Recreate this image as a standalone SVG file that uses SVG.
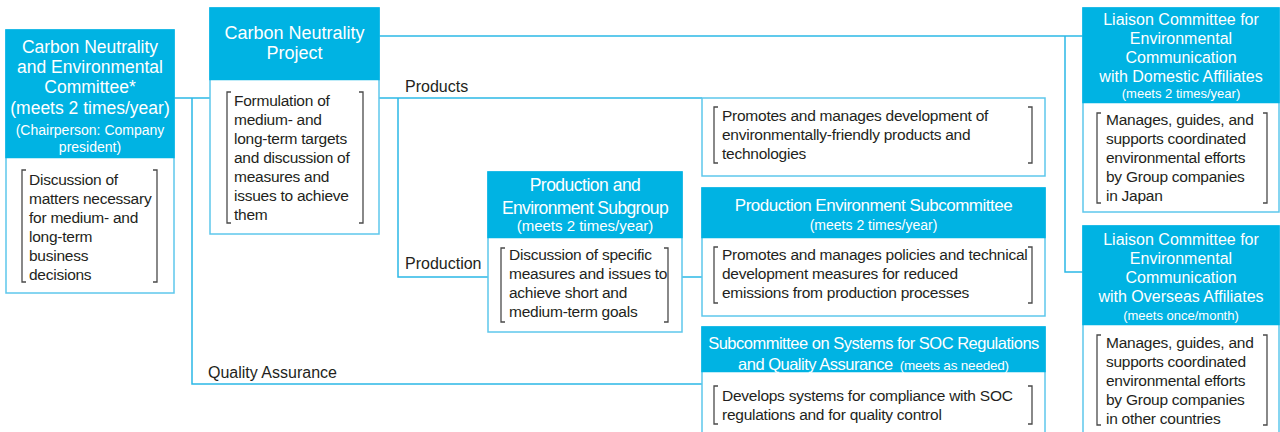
<svg xmlns="http://www.w3.org/2000/svg" width="1280" height="432" viewBox="0 0 1280 432">
<style>
.bx{fill:#fff;stroke:#5ec7ec;stroke-width:1.5}
.hd{fill:#00b3e3}
.cn{fill:none;stroke:#2bb8e6;stroke-width:1.5}
.br{fill:none;stroke:#4a4a4a;stroke-width:1.3}
text{font-family:"Liberation Sans",Arial,sans-serif}
.ht{fill:#fff;text-anchor:middle;font-size:17.5px}
.hn{letter-spacing:-0.5px}
.hs{font-size:14px}
.bt{fill:#231f20;font-size:15.5px;letter-spacing:-0.25px}
.lb{fill:#231f20;font-size:16px}
.soc{font-size:16.5px;letter-spacing:-0.5px}
</style>
<rect width="1280" height="432" fill="#fff"/>
<g id="connectors">
<path class="cn" d="M174 98H210"/>
<path class="cn" d="M192 98V384H702"/>
<path class="cn" d="M379 98H702"/>
<path class="cn" d="M398 98V277H488"/>
<path class="cn" d="M682 277H702"/>
<path class="cn" d="M379 36H1083"/>
<path class="cn" d="M1065 36V272H1083"/>
<text class="lb" x="405" y="92">Products</text>
<text class="lb" x="405" y="269">Production</text>
<text class="lb" x="208" y="378">Quality Assurance</text>
</g>
<g id="committee">
<rect class="bx" x="6" y="30" width="168" height="263"/>
<rect class="hd" x="5.25" y="29.25" width="169.5" height="129"/>
<text class="ht" x="90" y="53">Carbon Neutrality</text>
<text class="ht" x="90" y="73">and Environmental</text>
<text class="ht" x="90" y="93">Committee*</text>
<text class="ht" x="90" y="114">(meets 2 times/year)</text>
<text class="ht hs" x="90" y="135">(Chairperson: Company</text>
<text class="ht hs" x="90" y="152">president)</text>
<path class="br" d="M26 170H22V282H26M153 170H157V282H153"/>
<text class="bt" x="29" y="185">Discussion of</text>
<text class="bt" x="29" y="204">matters necessary</text>
<text class="bt" x="29" y="223">for medium- and</text>
<text class="bt" x="29" y="242">long-term</text>
<text class="bt" x="29" y="261">business</text>
<text class="bt" x="29" y="280">decisions</text>
</g>
<g id="project">
<rect class="bx" x="210" y="8" width="169" height="226"/>
<rect class="hd" x="209.25" y="7.25" width="170.5" height="73"/>
<text class="ht" x="294.5" y="39" style="font-size:18px">Carbon Neutrality</text>
<text class="ht" x="294.5" y="59" style="font-size:18px">Project</text>
<path class="br" d="M231 92H227V223H231M359 92H363V223H359"/>
<text class="bt" x="234" y="106">Formulation of</text>
<text class="bt" x="234" y="125">medium- and</text>
<text class="bt" x="234" y="144">long-term targets</text>
<text class="bt" x="234" y="163">and discussion of</text>
<text class="bt" x="234" y="182">measures and</text>
<text class="bt" x="234" y="201">issues to achieve</text>
<text class="bt" x="234" y="220">them</text>
</g>
<g id="products">
<rect class="bx" x="702" y="98" width="343" height="78"/>
<path class="br" d="M718 107H714V163H718M1028 107H1032V163H1028"/>
<text class="bt" x="722" y="121">Promotes and manages development of</text>
<text class="bt" x="722" y="140">environmentally-friendly products and</text>
<text class="bt" x="722" y="159">technologies</text>
</g>
<g id="subgroup">
<rect class="bx" x="488" y="172" width="194" height="160"/>
<rect class="hd" x="487.25" y="171.25" width="195.5" height="67"/>
<text class="ht hn" x="585" y="191">Production and</text>
<text class="ht hn" x="585" y="214" style="letter-spacing:-0.65px">Environment Subgroup</text>
<text class="ht" x="585" y="231" style="font-size:15px">(meets 2 times/year)</text>
<path class="br" d="M505 248H501V322H505M664 248H668V322H664"/>
<text class="bt" x="509" y="260">Discussion of specific</text>
<text class="bt" x="509" y="279">measures and issues to</text>
<text class="bt" x="509" y="298">achieve short and</text>
<text class="bt" x="509" y="317">medium-term goals</text>
</g>
<g id="prod-env-subcommittee">
<rect class="bx" x="702" y="188" width="343" height="128"/>
<rect class="hd" x="701.25" y="187.25" width="344.5" height="51"/>
<text class="ht hn" x="873.5" y="211" style="font-size:17px">Production Environment Subcommittee</text>
<text class="ht hs" x="873.5" y="230">(meets 2 times/year)</text>
<path class="br" d="M718 247H714V303H718M1028 247H1032V303H1028"/>
<text class="bt" x="722" y="260">Promotes and manages policies and technical</text>
<text class="bt" x="722" y="279">development measures for reduced</text>
<text class="bt" x="722" y="298">emissions from production processes</text>
</g>
<g id="soc-subcommittee">
<rect class="bx" x="702" y="327" width="343" height="120"/>
<rect class="hd" x="701.25" y="326.25" width="344.5" height="46"/>
<text class="ht soc" x="873.5" y="349">Subcommittee on Systems for SOC Regulations</text>
<text class="ht soc" x="873.5" y="370">and Quality Assurance <tspan dx="3" style="font-size:13.5px;letter-spacing:-0.2px">(meets as needed)</tspan></text>
<path class="br" d="M718 386H714V424H718M1028 386H1032V424H1028"/>
<text class="bt" x="722" y="401">Develops systems for compliance with SOC</text>
<text class="bt" x="722" y="420">regulations and for quality control</text>
</g>
<g id="domestic-liaison">
<rect class="bx" x="1083" y="8" width="196" height="204"/>
<rect class="hd" x="1082.25" y="7.25" width="197.5" height="96"/>
<text class="ht" x="1181" y="25" style="font-size:16px">Liaison Committee for</text>
<text class="ht" x="1181" y="44" style="font-size:16px">Environmental</text>
<text class="ht" x="1181" y="63" style="font-size:16px">Communication</text>
<text class="ht" x="1181" y="82" style="font-size:16px">with Domestic Affiliates</text>
<text class="ht" x="1181" y="98" style="font-size:13px">(meets 2 times/year)</text>
<path class="br" d="M1101 113H1097V203H1101M1263 113H1267V203H1263"/>
<text class="bt" x="1106" y="125">Manages, guides, and</text>
<text class="bt" x="1106" y="144">supports coordinated</text>
<text class="bt" x="1106" y="163">environmental efforts</text>
<text class="bt" x="1106" y="182">by Group companies</text>
<text class="bt" x="1106" y="201">in Japan</text>
</g>
<g id="overseas-liaison">
<rect class="bx" x="1083" y="226" width="196" height="220"/>
<rect class="hd" x="1082.25" y="225.25" width="197.5" height="100"/>
<text class="ht" x="1181" y="245" style="font-size:16px">Liaison Committee for</text>
<text class="ht" x="1181" y="264" style="font-size:16px">Environmental</text>
<text class="ht" x="1181" y="283" style="font-size:16px">Communication</text>
<text class="ht" x="1181" y="302" style="font-size:16px">with Overseas Affiliates</text>
<text class="ht" x="1181" y="320" style="font-size:13px">(meets once/month)</text>
<path class="br" d="M1101 335H1097V425H1101M1263 335H1267V425H1263"/>
<text class="bt" x="1106" y="348">Manages, guides, and</text>
<text class="bt" x="1106" y="367">supports coordinated</text>
<text class="bt" x="1106" y="386">environmental efforts</text>
<text class="bt" x="1106" y="405">by Group companies</text>
<text class="bt" x="1106" y="424">in other countries</text>
</g>
</svg>
